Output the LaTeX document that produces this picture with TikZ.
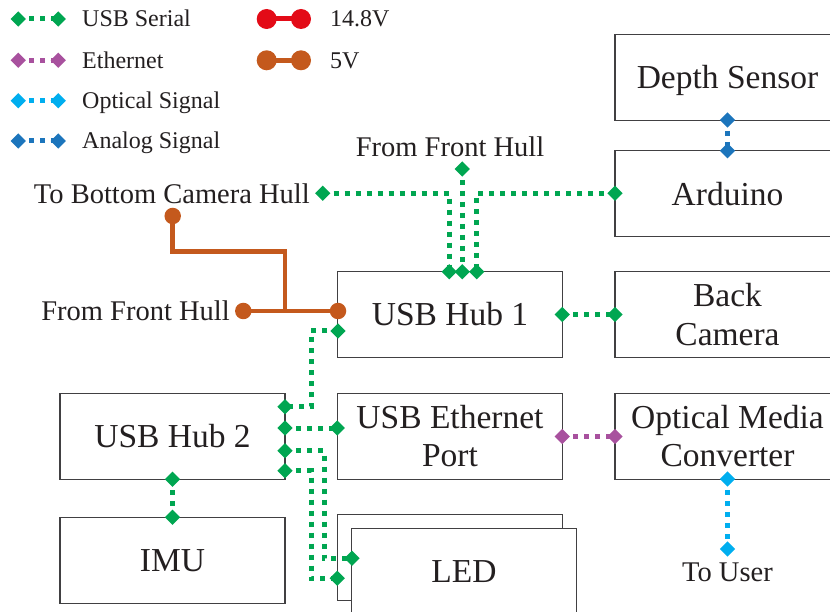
\documentclass[tikz,border=0pt]{standalone}
\usepackage{fontspec}
\setmainfont{Liberation Serif}
\usetikzlibrary{shapes.geometric}
\definecolor{usbc}{HTML}{00A651}
\definecolor{ethc}{HTML}{A8519E}
\definecolor{optc}{HTML}{00AEEF}
\definecolor{anac}{HTML}{1C75BC}
\definecolor{redc}{HTML}{E30B17}
\definecolor{orgc}{HTML}{C4591D}
\definecolor{txtc}{HTML}{231F20}
\definecolor{boxc}{HTML}{414042}
\newcommand{\myBig}{\fontsize{33.5}{38.3}\selectfont}
\newcommand{\myLbl}{\fontsize{28.5}{34}\selectfont}
\newcommand{\myLeg}{\fontsize{24}{29}\selectfont}
\begin{document}
\begin{tikzpicture}[x=1pt,y=-1pt,
  box/.style={draw=boxc, line width=1.3pt, minimum width=225pt, minimum height=86pt,
    inner sep=0pt, align=center, text=txtc, font=\myBig},
  dm/.style={rectangle, rotate=45, inner sep=0pt, outer sep=0pt, minimum size=10.8pt, fill=#1},
  pc/.style={circle, inner sep=0pt, minimum size=#1},
  conn/.style={line width=5pt, dash pattern=on 5pt off 6pt},
  usbl/.style={conn, draw=usbc},
  ethl/.style={conn, draw=ethc},
  optl/.style={conn, draw=optc},
  anal/.style={conn, draw=anac},
  pwr/.style={line width=4.6pt, draw=#1},
  lbl/.style={inner sep=0pt, text=txtc, font=\myLbl},
  leg/.style={inner sep=0pt, text=txtc, font=\myLeg, anchor=base west}]
\useasboundingbox (0,0) rectangle (830,612);
\clip (0,0) rectangle (830,612);

% ---------- legend ----------
\coordinate (l1a) at (18.3,19);
\coordinate (l1b) at (58.3,19);
\coordinate (l2a) at (18.3,60.3);
\coordinate (l2b) at (58.3,60.3);
\coordinate (l3a) at (18.3,100.7);
\coordinate (l3b) at (58.3,100.7);
\coordinate (l4a) at (18.3,141);
\coordinate (l4b) at (58.3,141);
\draw[usbl] (l1a) -- (l1b);
\draw[ethl] (l2a) -- (l2b);
\draw[optl] (l3a) -- (l3b);
\draw[anal] (l4a) -- (l4b);
\node[dm=usbc] (m1a) at (l1a) {};
\node[dm=usbc] (m1b) at (l1b) {};
\node[dm=ethc] (m2a) at (l2a) {};
\node[dm=ethc] (m2b) at (l2b) {};
\node[dm=optc] (m3a) at (l3a) {};
\node[dm=optc] (m3b) at (l3b) {};
\node[dm=anac] (m4a) at (l4a) {};
\node[dm=anac] (m4b) at (l4b) {};
\node[leg] (t1) at (82,26.7) {USB Serial};
\node[leg] (t2) at (82,68.2) {Ethernet};
\node[leg] (t3) at (82,108.7) {Optical Signal};
\node[leg] (t4) at (82,149) {Analog Signal};

\coordinate (p1a) at (266.7,19);
\coordinate (p1b) at (301,19);
\coordinate (p2a) at (266.7,60.3);
\coordinate (p2b) at (301,60.3);
\draw[pwr=redc, line width=5pt] (p1a) -- (p1b);
\draw[pwr=orgc, line width=5pt] (p2a) -- (p2b);
\node[pc=20pt, fill=redc] (q1a) at (p1a) {};
\node[pc=20pt, fill=redc] (q1b) at (p1b) {};
\node[pc=20pt, fill=orgc] (q2a) at (p2a) {};
\node[pc=20pt, fill=orgc] (q2b) at (p2b) {};
\node[leg] (t5) at (330,26.7) {14.8V};
\node[leg] (t6) at (330,68.2) {5V};

% ---------- boxes ----------
\node[box, text depth=0pt] (depth) at (727.5,77.3) {Depth Sensor};
\node[box] (ard) at (727.5,193.7) {Arduino};
\node[box] (bcam) at (727.5,314.5) {Back\\Camera};
\node[box] (omc) at (727.5,436.2) {Optical Media\\Converter};
\node[box] (hub1) at (450,314.5) {USB Hub 1};
\node[box] (eth) at (450,436.2) {USB Ethernet\\Port};
\node[box] (ledb) at (450,557.2) {};
\node[box, fill=white] (ledf) at (464,571.3) {LED};
\node[box] (hub2) at (172.5,436.3) {USB Hub 2};
\node[box] (imu) at (172.5,560.3) {IMU};

% ---------- labels ----------
\node[lbl, anchor=base east] (tTB) at (310,203.5) {To Bottom Camera Hull};
\node[lbl, anchor=base east] (tFF2) at (230,320) {From Front Hull};
\node[lbl, anchor=base] (tFF) at (450,157) {From Front Hull};
\node[lbl, anchor=base] (tTU) at (727.5,581.5) {To User};

% ---------- connector end points ----------
\coordinate (dTB) at (322.7,193.3);
\coordinate (dFF) at (462.3,169);
\coordinate (dAr) at (615,193.3);
\coordinate (dH1a) at (449.3,271.7);
\coordinate (dH1b) at (462.3,271.7);
\coordinate (dH1c) at (476.7,271.7);
\coordinate (dDS) at (727.5,120);
\coordinate (dAD) at (727.5,150.7);
\coordinate (dH1R) at (562.3,314.5);
\coordinate (dBC) at (615,314.5);
\coordinate (dH1L) at (338,331);
\coordinate (dH2a) at (285,406.7);
\coordinate (dH2b) at (285,428);
\coordinate (dEL) at (337.3,428);
\coordinate (dH2c) at (285,450.7);
\coordinate (dLF) at (352,558.3);
\coordinate (dH2d) at (285,470.7);
\coordinate (dLB) at (337.3,578.3);
\coordinate (dH2B) at (172.5,479.3);
\coordinate (dIMU) at (172.5,517.3);
\coordinate (dER) at (562.3,436.5);
\coordinate (dOL) at (615,436.5);
\coordinate (dOB) at (727.5,479);
\coordinate (dTU) at (727.5,549);

% ---------- connectors ----------
\draw[usbl] (dTB) -| (dH1a);
\draw[usbl] (dFF) -- (dH1b);
\draw[usbl] (dAr) -| (dH1c);
\draw[anal] (dDS) -- (dAD);
\draw[usbl] (dH1R) -- (dBC);
\draw[usbl] (dH1L) -- (311,331) -- (311,406.7) -- (dH2a);
\draw[usbl] (dH2b) -- (dEL);
\draw[usbl] (dH2c) -- (324,450.7) -- (324,558.3) -- (dLF);
\draw[usbl] (dH2d) -- (311,470.7) -- (311,578.3) -- (dLB);
\draw[usbl] (dH2B) -- (dIMU);
\draw[ethl] (dER) -- (dOL);
\draw[optl] (dOB) -- (dTU);

\foreach \p in {dTB,dFF,dAr,dH1a,dH1b,dH1c,dH1R,dBC,dH1L,dH2a,dH2b,dEL,dH2c,dLF,dH2d,dLB,dH2B,dIMU}
  \node[dm=usbc] (m\p) at (\p) {};
\node[dm=anac] (mdDS) at (dDS) {};
\node[dm=anac] (mdAD) at (dAD) {};
\node[dm=ethc] (mdER) at (dER) {};
\node[dm=ethc] (mdOL) at (dOL) {};
\node[dm=optc] (mdOB) at (dOB) {};
\node[dm=optc] (mdTU) at (dTU) {};

% ---------- power ----------
\coordinate (cBC) at (172.7,216);
\coordinate (cFF) at (243.3,311);
\coordinate (cH1) at (338,311);
\draw[pwr=orgc] (cBC) -- (172.7,251.7) -- (285,251.7) -- (285,311);
\draw[pwr=orgc] (cFF) -- (cH1);
\node[pc=16.5pt, fill=orgc] (pBC) at (cBC) {};
\node[pc=16.5pt, fill=orgc] (pFF) at (cFF) {};
\node[pc=16.5pt, fill=orgc] (pH1) at (cH1) {};
\end{tikzpicture}
\end{document}
